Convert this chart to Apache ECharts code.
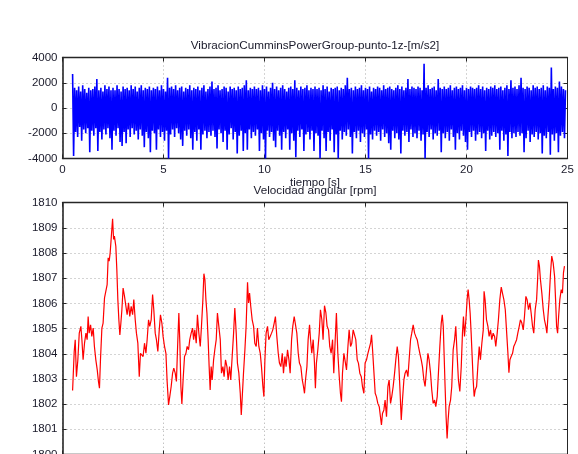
<!DOCTYPE html>
<html>
<head>
<meta charset="utf-8">
<script src="https://cdn.jsdelivr.net/npm/echarts@6/dist/echarts.min.js"></script>
<style>
html,body{margin:0;padding:0;background:#fff;}
#c{width:578px;height:454px;}
</style>
</head>
<body>
<div id="c"></div>
<script>
// ---- data ----
var titleTop = 'VibracionCumminsPowerGroup-punto-1z-[m/s2]';
var titleBottom = 'Velocidad angular [rpm]';
var xName = 'tiempo [s]';
var xTicks = [0, 5, 10, 15, 20, 25];
var vibYTicks = [-4000, -2000, 0, 2000, 4000];
var rpmYTicks = [1800, 1801, 1802, 1803, 1804, 1805, 1806, 1807, 1808, 1809, 1810];

// vibration samples (m/s2), start 0.5 s, one sample every 0.05 s
var vibStart = 0.5;
var vibStep = 0.05;
var vibValues = [
2700,-3800,1600,-1900,1400,-2300,1700,-1500,1300,-2600,1800,-1700,1500,-2000,1200,-1600,1600,-3500,1400,-1800,
1500,-2200,1700,-1600,2300,-3400,1400,-1900,1600,-2500,1300,-1700,1800,-2100,1500,-1600,1700,-2400,1400,-3300,
1600,-1800,1400,-2200,1800,-1600,1500,-2700,1300,-3000,1700,-1900,1500,-2800,1600,-1700,1400,-2300,1800,-1600,
1500,-2100,1700,-1800,1300,-2500,1600,-1700,1800,-2200,1400,-3100,1600,-1900,1500,-2400,1700,-3500,1400,-1800,
1600,-2000,1500,-3300,1700,-1700,1400,-2300,1800,-1900,1500,-2600,1300,-1800,2400,-4000,1600,-2100,1700,-1700,
1500,-2300,1800,-1600,1400,-2000,1600,-2500,1700,-3000,1300,-1800,1600,-2200,1500,-1700,1800,-2400,1400,-3300,
1600,-1900,1500,-2600,1700,-1700,1400,-3300,1600,-2100,1800,-1800,1300,-2400,1500,-1900,1700,-2200,2100,-1800,
1500,-2300,1600,-3200,1800,-1700,1400,-2000,1500,-2700,1700,-1800,1600,-3300,1300,-2100,1700,-1600,1500,-2500,
1600,-1900,1400,-3600,1700,-2200,1500,-1800,1600,-3400,1800,-2000,2200,-3300,1400,-1700,1600,-2400,1500,-1900,
1700,-2200,1500,-1700,1600,-3400,1400,-2000,1800,-2500,1500,-4000,1700,-1800,1300,-2300,1600,-1900,2000,-2600,
1500,-3100,1700,-1800,1400,-2200,1600,-3300,1800,-1900,1500,-2400,1300,-1700,1600,-3300,1700,-2000,1500,-2600,
2200,-3900,1600,-1800,1400,-2300,1700,-1700,1500,-3400,1600,-2100,1800,-1900,1400,-2500,1600,-1800,1500,-3400,
1700,-2000,1500,-2200,1600,-4000,1400,-1800,1800,-2400,1500,-3400,1700,-1900,1300,-2600,1600,-1700,1500,-3500,
1600,-2100,1700,-4000,1400,-1800,1600,-2500,1500,-1900,1800,-2200,2400,-1700,1500,-2300,1600,-3600,1400,-1900,
1700,-2400,1500,-1800,1600,-2700,1800,-2000,1400,-2300,1600,-1700,1500,-4000,1700,-2100,1300,-2500,1600,-1800,
1500,-2200,1700,-1900,1600,-2600,1400,-1700,1800,-2300,1500,-2000,1600,-2800,1700,-3300,1500,-1800,1400,-2400,
1600,-2000,1800,-2500,1500,-3600,1700,-1800,1400,-2200,1600,-1900,2300,-2700,1500,-1700,1700,-2300,1600,-2000,
1500,-2400,1700,-1800,1600,-2600,1400,-2100,3500,-4000,1600,-1900,1800,-2300,1500,-1700,1600,-2500,1700,-2000,
1400,-2200,2300,-1800,1600,-3500,1500,-2000,1700,-2400,1500,-1900,1600,-2600,1800,-1700,1400,-2300,1600,-3300,
1700,-2000,1500,-2500,1600,-1800,1800,-2200,1400,-2700,1600,-3300,1500,-1900,1700,-2300,1600,-1800,1500,-2600,
1600,-2100,1800,-1900,1500,-2400,1700,-2000,1400,-3400,1600,-1800,1500,-2500,1700,-2200,1600,-1900,1800,-2300,
1500,-2000,1600,-3300,1700,-1800,1400,-2600,1600,-2100,1800,-3800,1500,-1900,2200,-2400,1600,-2000,1700,-2300,
1500,-1900,1800,-2200,2400,-2000,1600,-3500,1500,-2400,1700,-1800,1600,-2700,1400,-2100,1800,-2300,1600,-1900,
1700,-2500,1500,-2000,1600,-3600,1800,-2200,1400,-2400,1700,-1900,1600,-3700,3200,-2100,1500,-2600,1700,-2000,
1600,-3500,2100,-2200,1700,-1900,1500,-2400,1400
];

// angular speed: [time s, rpm]
var rpmPoints = [
[0.50,1802.54],[0.58,1804.09],[0.63,1804.56],[0.69,1803.09],[0.76,1803.76],[0.83,1804.82],[0.91,1805.09],[0.96,1804.56],[1.02,1803.76],[1.09,1804.42],
[1.16,1804.82],[1.22,1804.56],[1.27,1805.48],[1.32,1804.82],[1.39,1805.15],[1.45,1804.69],[1.52,1805.02],[1.58,1804.29],[1.65,1803.76],[1.72,1803.36],
[1.78,1802.90],[1.83,1802.63],[1.88,1803.76],[1.95,1805.02],[2.01,1805.22],[2.08,1806.22],[2.15,1806.28],[2.21,1806.75],[2.26,1807.81],[2.31,1807.68],
[2.36,1808.01],[2.43,1808.80],[2.48,1809.36],[2.53,1808.54],[2.57,1808.67],[2.64,1808.27],[2.69,1807.34],[2.74,1806.15],[2.79,1805.35],[2.84,1804.75],
[2.89,1805.22],[2.94,1805.75],[3.00,1806.61],[3.07,1806.28],[3.14,1805.88],[3.20,1805.55],[3.27,1806.02],[3.33,1805.48],[3.40,1805.88],[3.47,1805.55],
[3.53,1806.15],[3.60,1805.35],[3.66,1804.82],[3.73,1804.42],[3.80,1803.09],[3.86,1804.02],[3.93,1804.09],[3.99,1803.89],[4.06,1804.42],[4.13,1804.02],
[4.19,1804.56],[4.26,1805.35],[4.32,1805.09],[4.39,1805.35],[4.46,1806.35],[4.52,1805.75],[4.59,1804.82],[4.65,1804.56],[4.72,1804.09],[4.79,1804.95],
[4.85,1805.55],[4.92,1805.22],[4.98,1804.69],[5.05,1804.29],[5.12,1804.02],[5.18,1802.90],[5.25,1801.97],[5.31,1802.30],[5.38,1802.70],[5.45,1803.23],
[5.51,1803.43],[5.58,1803.23],[5.64,1802.90],[5.71,1804.56],[5.76,1805.62],[5.81,1804.42],[5.86,1802.70],[5.91,1802.01],[5.97,1802.96],[6.04,1803.89],
[6.11,1804.02],[6.17,1804.29],[6.24,1804.16],[6.30,1804.56],[6.37,1804.82],[6.44,1805.02],
[6.49,1804.56],[6.55,1804.95],[6.62,1804.42],[6.68,1805.55],[6.75,1804.82],[6.82,1804.29],[6.88,1805.09],[6.95,1806.15],[7.00,1807.18],[7.05,1806.95],
[7.10,1806.15],[7.15,1805.62],[7.21,1804.56],[7.26,1803.49],[7.31,1802.56],[7.36,1803.49],[7.41,1802.96],[7.48,1803.76],[7.54,1804.16],[7.61,1804.56],
[7.67,1805.62],[7.74,1805.09],[7.81,1804.56],[7.87,1803.23],[7.94,1803.49],[8.00,1803.09],[8.07,1803.76],[8.14,1803.49],[8.20,1802.96],[8.27,1803.49],
[8.33,1802.96],[8.40,1803.89],[8.47,1804.82],[8.53,1805.82],[8.60,1804.82],[8.66,1803.63],[8.73,1803.23],[8.80,1802.43],[8.85,1801.57],[8.89,1802.16],
[8.96,1803.23],[9.03,1804.16],[9.09,1805.09],[9.16,1806.84],[9.21,1806.02],[9.26,1806.41],[9.32,1805.88],[9.39,1805.35],[9.46,1805.09],[9.52,1804.42],
[9.59,1804.29],[9.65,1805.02],[9.72,1804.29],[9.79,1804.02],[9.85,1803.49],[9.92,1802.70],[9.97,1802.30],[10.02,1803.76],[10.08,1804.82],[10.15,1805.09],
[10.21,1804.56],[10.28,1804.69],[10.35,1804.82],[10.41,1804.95],[10.48,1805.22],[10.54,1805.48],[10.61,1804.69],[10.68,1804.02],[10.74,1803.63],[10.81,1803.49],
[10.88,1804.02],[10.94,1803.23],[11.01,1803.89],[11.07,1803.49],[11.14,1804.16],[11.21,1803.76],[11.27,1803.23],[11.34,1804.56],[11.40,1805.09],[11.47,1805.48],
[11.54,1805.55],[11.60,1804.82],[11.67,1804.02],[11.73,1803.63],[11.80,1803.49],[11.87,1802.96],[11.93,1802.70],[11.98,1802.43],[12.03,1802.96],[12.10,1803.49],
[12.16,1804.56],[12.23,1805.15],
[12.28,1804.56],[12.34,1804.02],[12.41,1804.56],[12.47,1803.69],[12.52,1802.63],[12.57,1803.63],[12.64,1804.16],[12.71,1804.82],[12.77,1805.75],[12.84,1805.35],
[12.90,1804.56],[12.97,1805.91],[13.04,1805.62],[13.10,1805.09],[13.17,1804.95],[13.23,1804.29],[13.30,1804.02],[13.37,1804.56],[13.43,1803.23],[13.50,1804.56],
[13.56,1805.62],[13.63,1804.02],[13.70,1803.09],[13.76,1802.43],[13.81,1802.10],[13.86,1803.23],[13.93,1804.02],[13.99,1804.02],[14.06,1803.36],[14.13,1804.29],
[14.19,1804.95],[14.26,1804.29],[14.32,1804.42],[14.39,1804.95],[14.46,1805.02],[14.52,1804.56],[14.59,1803.76],[14.65,1803.63],[14.72,1803.23],[14.79,1803.09],
[14.85,1802.70],[14.92,1802.43],[14.98,1803.63],[15.05,1803.76],[15.12,1804.02],[15.18,1804.02],[15.25,1804.42],[15.30,1804.75],[15.35,1804.16],[15.41,1803.36],
[15.48,1802.43],[15.54,1802.30],[15.61,1802.03],[15.68,1801.90],[15.74,1801.50],[15.79,1801.17],[15.84,1801.63],[15.91,1801.77],[15.97,1802.16],[16.04,1801.50],
[16.11,1802.70],[16.17,1802.96],[16.24,1802.03],[16.30,1802.30],[16.37,1802.70],[16.44,1803.23],[16.50,1803.76],[16.57,1804.29],[16.63,1803.89],[16.70,1802.70],
[16.77,1801.37],[16.83,1802.16],[16.90,1802.96],[16.96,1803.23],[17.03,1803.36],[17.10,1803.09],[17.16,1803.76],[17.23,1804.56],[17.29,1804.82],[17.36,1805.15],
[17.43,1804.82],[17.49,1804.69],[17.56,1804.56],[17.62,1804.29],[17.69,1804.02],[17.76,1803.76],[17.82,1803.49],[17.89,1802.96],[17.95,1802.70],[18.02,1803.36],
[18.09,1804.02],[18.15,1803.76],[18.22,1803.23],[18.28,1802.56],[18.35,1802.03],[18.42,1802.16],[18.48,1801.90],[18.55,1802.30],[18.61,1803.23],[18.68,1804.29],
[18.75,1805.22],[18.80,1805.55],[18.85,1805.09],[18.89,1804.02],[18.94,1802.70],[18.99,1801.50],[19.04,1800.64],[19.09,1801.37],[19.14,1801.90],[19.21,1802.16],
[19.27,1802.70],[19.34,1804.16],[19.41,1804.56],[19.47,1805.09],[19.54,1803.89],[19.60,1802.96],[19.67,1802.50],[19.74,1803.49],[19.80,1804.82],[19.85,1805.48],
[19.90,1804.69],[19.97,1805.35],[20.03,1806.15],[20.08,1806.55],[20.13,1806.15],[20.18,1805.62],[20.23,1804.82],[20.28,1803.89],[20.33,1802.96],[20.38,1802.30],
[20.43,1802.56],[20.50,1802.70],[20.56,1803.49],[20.63,1804.29],[20.69,1803.76],[20.76,1804.42],[20.83,1804.95],[20.87,1806.48],[20.92,1806.15],[20.99,1805.35],
[21.06,1805.09],[21.12,1804.69],[21.19,1804.95],[21.25,1804.56],[21.32,1804.82],[21.39,1804.69],[21.45,1804.29],[21.52,1804.82],[21.58,1805.35],[21.65,1806.15],
[21.72,1806.65],[21.78,1806.41],[21.85,1806.15],[21.92,1805.75],[21.98,1804.95],[22.05,1804.02],[22.10,1803.25],[22.15,1803.76],[22.21,1803.89],[22.28,1804.02],
[22.34,1804.29],[22.41,1804.42],[22.48,1804.56],[22.54,1804.82],[22.61,1805.09],[22.67,1805.35],[22.74,1805.22],[22.81,1804.95],[22.87,1805.48],[22.94,1806.28],
[23.00,1806.15],[23.07,1805.75],[23.14,1806.02],[23.20,1805.62],[23.27,1805.09],[23.33,1804.82],[23.40,1805.75],[23.47,1806.15],[23.52,1806.95],[23.56,1807.72],
[23.61,1807.48],[23.66,1806.95],[23.73,1806.41],[23.80,1805.75],[23.86,1805.35],[23.93,1805.09],[23.98,1804.82],[24.03,1805.48],[24.09,1806.15],[24.16,1807.21],
[24.22,1807.88],[24.29,1807.61],[24.36,1807.08],[24.41,1806.15],[24.46,1805.09],[24.51,1804.82],[24.56,1805.48],[24.62,1806.15],[24.69,1806.55],[24.75,1806.41],
[24.80,1807.21],[24.85,1807.48]
];

// ---- build ----
var vibData = vibValues.map(function (v, i) { return [vibStart + i * vibStep, v]; });

var chart = echarts.init(document.getElementById('c'), null, {renderer: 'canvas'});
var FONT = 'Liberation Sans, Arial, Helvetica, sans-serif';
var AX = '#262626';
var LBL = '#1a1a2a';
function plain(v) { return String(v); }

function xAx(grid, pos, showLabel) {
  return {
    type: 'value', gridIndex: grid, position: pos,
    min: xTicks[0], max: xTicks[xTicks.length - 1], interval: 5,
    axisLine: {show: true, onZero: false, lineStyle: {color: AX, width: 1.3}},
    axisTick: {show: true, inside: true, length: 4, lineStyle: {color: AX}},
    axisLabel: {show: showLabel, color: LBL, fontSize: 11.5, fontFamily: FONT, margin: 5, formatter: plain},
    splitLine: {show: pos === 'bottom', lineStyle: {color: '#a8a8a8', type: [1, 3], width: 1}}
  };
}
function yAx(grid, pos, showLabel, ticks, interval) {
  return {
    type: 'value', gridIndex: grid, position: pos,
    min: ticks[0], max: ticks[ticks.length - 1], interval: interval,
    axisLine: {show: true, onZero: false, lineStyle: {color: AX, width: pos === 'left' ? 1.6 : 1}},
    axisTick: {show: true, inside: true, length: 4, lineStyle: {color: AX}},
    axisLabel: {show: showLabel, color: LBL, fontSize: 11.5, fontFamily: FONT, margin: 5, formatter: plain},
    splitLine: {show: pos === 'left', lineStyle: {color: '#a8a8a8', type: [1, 3], width: 1}}
  };
}

chart.setOption({
  animation: false,
  backgroundColor: '#ffffff',
  grid: [
    {left: 62.5, top: 57.5, width: 505, height: 101, outerBoundsMode: 'none', containLabel: false},
    {left: 62.5, top: 202.7, width: 505, height: 251.8, outerBoundsMode: 'none', containLabel: false}
  ],
  xAxis: [
    Object.assign(xAx(0, 'bottom', true), {name: xName, nameLocation: 'middle', nameGap: 16,
      nameTextStyle: {color: LBL, fontSize: 11.5, fontFamily: FONT}}),
    xAx(0, 'top', false),
    xAx(1, 'bottom', false),
    xAx(1, 'top', false)
  ],
  yAxis: [
    yAx(0, 'left', true, vibYTicks, 2000),
    yAx(0, 'right', false, vibYTicks, 2000),
    yAx(1, 'left', true, rpmYTicks, 1),
    yAx(1, 'right', false, rpmYTicks, 1)
  ],
  graphic: [
    {type: 'text', x: 315, y: 46, style: {text: titleTop, fill: LBL, font: '11.7px ' + FONT, align: 'center', verticalAlign: 'middle'}},
    {type: 'text', x: 315, y: 190.5, style: {text: titleBottom, fill: LBL, font: '11.7px ' + FONT, align: 'center', verticalAlign: 'middle'}}
  ],
  series: [
    {type: 'line', xAxisIndex: 0, yAxisIndex: 0, data: vibData, showSymbol: false, symbol: 'none',
      lineStyle: {color: '#0000ff', width: 1.6}, itemStyle: {color: '#0000ff'}, sampling: null, silent: true},
    {type: 'line', xAxisIndex: 2, yAxisIndex: 2, data: rpmPoints, showSymbol: false, symbol: 'none',
      lineStyle: {color: '#ff0000', width: 1.2}, itemStyle: {color: '#ff0000'}, silent: true}
  ]
});
</script>
</body>
</html>
